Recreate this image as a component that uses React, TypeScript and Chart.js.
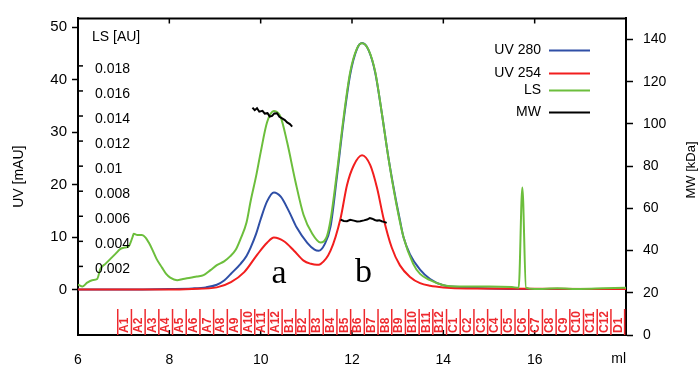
import React, { useEffect, useRef } from 'react';
import { Chart, registerables } from 'chart.js';

Chart.register(...registerables);

// ---------- data (volume in ml) ----------
const uv280Ml = [6.0, 7.0, 8.0, 8.5, 8.8, 9.04, 9.2, 9.35, 9.56, 9.69, 9.78, 9.9, 10.0, 10.14, 10.29, 10.44, 10.62, 10.79, 11.02, 11.18, 11.27, 11.4, 11.53, 11.67, 11.82, 11.96, 12.11, 12.22, 12.36, 12.51, 12.65, 12.8, 12.95, 13.05, 13.13, 13.27, 13.49, 13.71, 14.0, 14.5, 15.0, 16.0, 18.0];
const uv280Val = [0.0, 0.0, 0.1, 0.2, 0.4, 0.9, 1.7, 3.0, 4.9, 6.4, 8.0, 10.6, 13.4, 16.8, 18.5, 17.7, 14.9, 11.8, 8.9, 7.6, 7.4, 8.6, 12.0, 21.5, 32.5, 41.0, 45.9, 47.0, 45.7, 41.3, 33.8, 25.0, 17.6, 13.2, 9.9, 6.7, 3.8, 2.0, 0.8, 0.4, 0.2, 0.1, 0.1];

const uv254Ml = [6.0, 8.0, 8.5, 9.04, 9.35, 9.64, 9.93, 10.14, 10.29, 10.51, 10.73, 10.94, 11.1, 11.23, 11.31, 11.53, 11.75, 11.89, 12.04, 12.22, 12.4, 12.55, 12.69, 12.87, 13.05, 13.27, 13.49, 13.71, 14.0, 14.5, 18.0];
const uv254Val = [0.0, 0.0, 0.1, 0.4, 1.4, 3.3, 6.7, 8.9, 9.9, 9.2, 7.4, 5.5, 4.9, 4.7, 4.85, 7.4, 13.6, 19.9, 23.7, 25.6, 23.7, 19.3, 13.6, 8.0, 4.6, 2.4, 1.2, 0.7, 0.4, 0.2, 0.1];

const lsMl = [6.0, 6.1, 6.2, 6.31, 6.42, 6.49, 6.6, 6.71, 6.82, 6.93, 7.02, 7.11, 7.2, 7.22, 7.3, 7.4, 7.48, 7.55, 7.62, 7.72, 7.84, 7.93, 8.02, 8.17, 8.3, 8.46, 8.6, 8.75, 8.9, 9.04, 9.2, 9.33, 9.45, 9.56, 9.69, 9.78, 9.9, 10.0, 10.14, 10.29, 10.44, 10.58, 10.76, 10.94, 11.13, 11.31, 11.45, 11.53, 11.67, 11.82, 11.96, 12.11, 12.22, 12.36, 12.51, 12.65, 12.8, 12.95, 13.13, 13.34, 13.49, 13.71, 14.0, 14.3, 14.5, 15.0, 15.5, 15.65, 15.73, 15.81, 16.0, 16.5, 17.0, 17.5, 18.0];
const lsVal = [0.00055, 0.0004, 0.0007, 0.0009, 0.001, 0.0018, 0.0022, 0.0026, 0.003, 0.0034, 0.0035, 0.0036, 0.0044, 0.0046, 0.0045, 0.0045, 0.0043, 0.0039, 0.0034, 0.0026, 0.0019, 0.0014, 0.0011, 0.0009, 0.001, 0.0011, 0.0012, 0.0013, 0.0017, 0.0021, 0.0024, 0.0028, 0.0033, 0.0042, 0.0055, 0.0072, 0.0092, 0.0111, 0.0135, 0.0144, 0.0139, 0.0119, 0.0088, 0.0061, 0.0046, 0.0039, 0.0044, 0.0057, 0.0095, 0.014, 0.0175, 0.0194, 0.0198, 0.0193, 0.0175, 0.0143, 0.0106, 0.0074, 0.0043, 0.0022, 0.0014, 0.0009, 0.0005, 0.0004, 0.0004, 0.0004, 0.00035, 0.0003, 0.0083, 0.0003, 0.0002, 0.00025, 0.0002, 0.00025, 0.0003];

const mwAMl = [9.82, 9.87, 9.92, 9.97, 10.04, 10.09, 10.15, 10.2, 10.25, 10.3, 10.36, 10.41, 10.47, 10.53, 10.58, 10.64, 10.69];
const mwAVal = [107.7, 106.5, 107.4, 105.8, 106.2, 104.9, 105.1, 103.5, 103.8, 105.0, 105.1, 103.4, 102.6, 101.8, 100.7, 99.9, 98.7];
const mwBMl = [11.75, 11.82, 11.89, 11.96, 12.04, 12.11, 12.18, 12.26, 12.33, 12.39, 12.44, 12.5, 12.55, 12.6, 12.65, 12.7, 12.76];
const mwBVal = [54.7, 54.0, 53.9, 54.6, 54.2, 53.8, 53.9, 54.3, 54.7, 55.4, 55.1, 54.5, 54.2, 54.4, 53.9, 53.6, 53.1];

const xTicks = [6, 8, 10, 12, 14, 16];
const uvTicks = [0, 10, 20, 30, 40, 50];
const mwTicks = [0, 20, 40, 60, 80, 100, 120, 140];
const lsTicks = [0.002, 0.004, 0.006, 0.008, 0.01, 0.012, 0.014, 0.016, 0.018];
const lsTickLabels = ['0.002', '0.004', '0.006', '0.008', '0.01', '0.012', '0.014', '0.016', '0.018'];

const fractionNames = ['A1', 'A2', 'A3', 'A4', 'A5', 'A6', 'A7', 'A8', 'A9', 'A10', 'A11', 'A12', 'B1', 'B2', 'B3', 'B4', 'B5', 'B6', 'B7', 'B8', 'B9', 'B10', 'B11', 'B12', 'C1', 'C2', 'C3', 'C4', 'C5', 'C6', 'C7', 'C8', 'C9', 'C10', 'C11', 'C12', 'D1'];
const fractionBounds = [6.87, 7.17, 7.47, 7.77, 8.07, 8.37, 8.67, 8.97, 9.27, 9.57, 9.87, 10.17, 10.47, 10.77, 11.07, 11.37, 11.67, 11.97, 12.27, 12.57, 12.87, 13.17, 13.47, 13.77, 14.07, 14.37, 14.67, 14.97, 15.27, 15.57, 15.87, 16.17, 16.47, 16.77, 17.07, 17.37, 17.67, 17.97];

const peakLabels = ['a', 'b'];
const peakMl = [10.4, 12.25];
const peakUv = [1.2, 1.4];

const legendLabels = ['UV 280', 'UV 254', 'LS', 'MW'];

const BLUE = '#2F4FA6';
const RED = '#F21E1E';
const GREEN = '#6CBE3C';
const BLACK = '#000000';
const FRAC = '#EE2A2F';
const legendColors = [BLUE, RED, GREEN, BLACK];

const SANS = '"Liberation Sans", Arial, sans-serif';
const SERIF = '"Liberation Serif", "Times New Roman", serif';

const pts = (xs: number[], ys: number[]) => xs.map((x, i) => ({ x, y: ys[i] }));

const overlay = {
  id: 'overlay',
  afterDraw(chart: any) {
    const { ctx, chartArea: a, scales } = chart;
    const xs = scales.x;
    const ls = scales.yLS;
    const uv = scales.y;
    ctx.save();
    ctx.strokeStyle = '#000';
    ctx.fillStyle = '#000';
    // top border
    ctx.lineWidth = 2;
    ctx.beginPath();
    ctx.moveTo(a.left - 1, a.top);
    ctx.lineTo(a.right + 1, a.top);
    ctx.stroke();
    // inner x ticks (bottom and top)
    ctx.lineWidth = 1.5;
    xTicks.forEach((v) => {
      if (v === xs.min) return;
      const px = xs.getPixelForValue(v);
      ctx.beginPath();
      ctx.moveTo(px, a.bottom);
      ctx.lineTo(px, a.bottom - 5);
      ctx.moveTo(px, a.top);
      ctx.lineTo(px, a.top + 5);
      ctx.stroke();
    });
    // LS axis inside plot
    ctx.font = '14px ' + SANS;
    ctx.textAlign = 'left';
    ctx.textBaseline = 'middle';
    lsTicks.forEach((v, i) => {
      const py = ls.getPixelForValue(v);
      ctx.beginPath();
      ctx.moveTo(a.left, py);
      ctx.lineTo(a.left + 5, py);
      ctx.stroke();
      ctx.fillText(lsTickLabels[i], a.left + 17, py + 3);
    });
    ctx.fillText('LS [AU]', a.left + 14, a.top + 19);

    // fractions
    ctx.strokeStyle = FRAC;
    ctx.lineWidth = 1.5;
    fractionBounds.forEach((v) => {
      const px = xs.getPixelForValue(v);
      ctx.beginPath();
      ctx.moveTo(px, a.bottom);
      ctx.lineTo(px, a.bottom - 26);
      ctx.stroke();
    });
    ctx.fillStyle = FRAC;
    ctx.font = 'bold 12px ' + SANS;
    fractionNames.forEach((n, i) => {
      const cx = (xs.getPixelForValue(fractionBounds[i]) + xs.getPixelForValue(fractionBounds[i + 1])) / 2;
      ctx.save();
      ctx.translate(cx + 0.5, a.bottom - 2);
      ctx.rotate(-Math.PI / 2);
      ctx.textAlign = 'left';
      ctx.textBaseline = 'middle';
      ctx.fillText(n, 0, 0);
      ctx.restore();
    });

    // peak labels
    ctx.fillStyle = '#000';
    ctx.font = '34px ' + SERIF;
    ctx.textAlign = 'center';
    ctx.textBaseline = 'alphabetic';
    peakLabels.forEach((t, i) => {
      ctx.fillText(t, xs.getPixelForValue(peakMl[i]), uv.getPixelForValue(peakUv[i]));
    });

    // legend
    const ly = [32, 55, 72, 94];
    ctx.font = '14px ' + SANS;
    ctx.textAlign = 'right';
    ctx.textBaseline = 'middle';
    ctx.lineWidth = 2;
    legendLabels.forEach((t, i) => {
      const y = a.top + ly[i];
      ctx.fillStyle = '#000';
      ctx.fillText(t, a.right - 85, y);
      ctx.strokeStyle = legendColors[i];
      ctx.beginPath();
      ctx.moveTo(a.right - 77, y);
      ctx.lineTo(a.right - 36, y);
      ctx.stroke();
    });

    // right axis title (reads bottom to top)
    ctx.save();
    ctx.fillStyle = '#000';
    ctx.font = '13px ' + SANS;
    ctx.translate(691, 170);
    ctx.rotate(-Math.PI / 2);
    ctx.textAlign = 'center';
    ctx.textBaseline = 'middle';
    ctx.fillText('MW [kDa]', 0, 0);
    ctx.restore();

    ctx.restore();
  },
};

export default function App() {
  const ref = useRef<HTMLCanvasElement | null>(null);
  useEffect(() => {
    if (!ref.current) return;
    Chart.defaults.font.family = SANS;
    Chart.defaults.color = '#000';
    const line = (label: string, data: any[], color: string, axis: string, order: number, smooth = true) => ({
      label,
      data,
      borderColor: color,
      backgroundColor: color,
      borderWidth: 2,
      pointRadius: 0,
      fill: false,
      yAxisID: axis,
      order,
      cubicInterpolationMode: smooth ? 'monotone' : 'default',
      tension: smooth ? 0.4 : 0,
    });
    const chart = new Chart(ref.current, {
      type: 'line',
      data: {
        datasets: [
          line('UV 280', pts(uv280Ml, uv280Val), BLUE, 'y', 4),
          line('UV 254', pts(uv254Ml, uv254Val), RED, 'y', 3),
          line('LS', pts(lsMl, lsVal), GREEN, 'yLS', 2),
          line('MW', pts(mwAMl, mwAVal), BLACK, 'yMW', 1, false),
          line('MW', pts(mwBMl, mwBVal), BLACK, 'yMW', 1, false),
        ] as any,
      },
      options: {
        animation: false,
        responsive: false,
        events: [],
        layout: { padding: { top: 15, left: 0, right: 0, bottom: 0 } },
        plugins: { legend: { display: false }, tooltip: { enabled: false } },
        scales: {
          x: {
            type: 'linear',
            min: 6,
            max: 18,
            afterBuildTicks: (s: any) => { s.ticks = xTicks.map((v) => ({ value: v })); },
            afterFit: (s: any) => { s.height = 34; },
            grid: { display: false, drawTicks: false },
            border: { display: true, color: '#000', width: 2 },
            ticks: { font: { size: 14 }, padding: 17, color: '#000', maxRotation: 0 },
            title: { display: true, text: 'ml', align: 'end', font: { size: 14 }, padding: { top: 0, bottom: 1 } },
          },
          y: {
            type: 'linear',
            position: 'left',
            min: -8.68,
            max: 51.7,
            afterBuildTicks: (s: any) => { s.ticks = uvTicks.map((v) => ({ value: v })); },
            afterFit: (s: any) => { s.width = 78; },
            grid: { display: true, drawOnChartArea: false, drawTicks: true, tickLength: 6, tickColor: '#000', tickWidth: 1.5 },
            border: { display: true, color: '#000', width: 2 },
            ticks: { font: { size: 15 }, padding: 5, color: '#000' },
            title: { display: true, text: 'UV [mAU]', font: { size: 14 }, padding: { top: 11, bottom: 0 } },
          },
          yLS: {
            type: 'linear',
            position: 'left',
            display: false,
            min: -0.003474,
            max: 0.02179,
          },
          yMW: {
            type: 'linear',
            position: 'right',
            min: 0,
            max: 150,
            afterBuildTicks: (s: any) => { s.ticks = mwTicks.map((v) => ({ value: v })); },
            afterFit: (s: any) => { s.width = 72; },
            grid: { display: true, drawOnChartArea: false, drawTicks: true, tickLength: 7, tickColor: '#000', tickWidth: 1.5 },
            border: { display: true, color: '#000', width: 2 },
            ticks: { font: { size: 14 }, padding: 10, color: '#000' },
          },
        },
      } as any,
      plugins: [overlay],
    });
    return () => chart.destroy();
  }, []);
  return (
    <div style={{ position: 'absolute', left: 0, top: 0, width: 698, height: 369, background: '#fff' }}>
      <canvas ref={ref} width={698} height={369} style={{ display: 'block' }} />
    </div>
  );
}
